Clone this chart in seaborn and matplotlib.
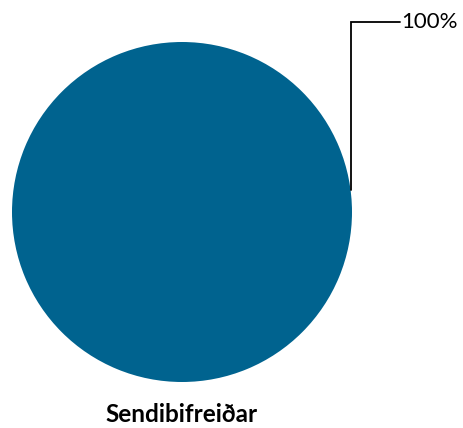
import numpy as np
import matplotlib
matplotlib.use("Agg")
import matplotlib.pyplot as plt
import seaborn as sns

categories = ["Sendibifreiðar"]
values = [100]
labels = ["100%"]
colors = ["#00638F"]

sns.set_theme(style="white")
plt.rcParams['font.family'] = ['Lato', 'DejaVu Sans']

W, H = 464, 428
fig = plt.figure(figsize=(W/100, H/100), dpi=100)
ax = fig.add_axes([0, 0, 1, 1])

cx, cy, r = 182, H - 212, 170
wedges, _ = ax.pie(values, colors=colors, center=(cx, cy), radius=r,
                   startangle=90, counterclock=False,
                   wedgeprops=dict(linewidth=0))
ax.set_xlim(0, W)
ax.set_ylim(0, H)
ax.set_aspect('equal')
ax.axis('off')

# leader line for the label
ang = np.deg2rad(7.5)
x0 = cx + r * np.cos(ang)
y0 = cy + r * np.sin(ang)
ytop = H - 22
ax.plot([x0, x0, 400], [y0, ytop, ytop], color='black', lw=1.3, solid_joinstyle='miter')
ax.text(401, ytop, labels[0], ha='left', va='center', fontsize=16, color='black')

ax.text(cx, H - 414, categories[0], ha='center', va='center', fontsize=17.5,
        fontweight='bold', color='black')

fig.savefig("out.png", dpi=100)
